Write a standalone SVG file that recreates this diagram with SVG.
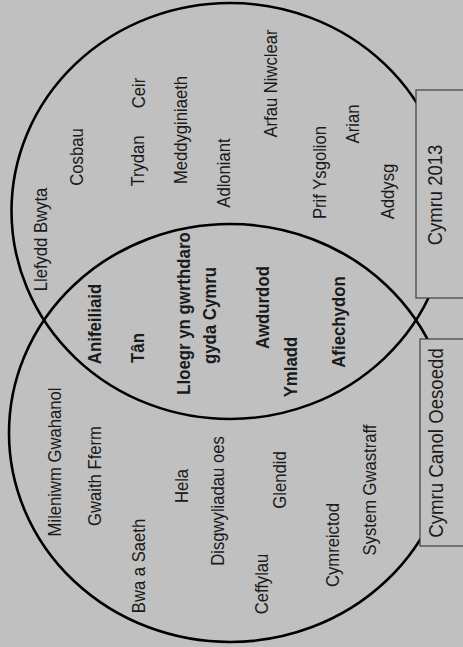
<svg xmlns="http://www.w3.org/2000/svg" width="463" height="647" viewBox="0 0 463 647">
<style>
.c{fill:none;stroke:#000;stroke-width:2.6}
.b{fill:#c0c0c0;stroke:#404040;stroke-width:1.2}
text{font-family:"Liberation Sans",Arial,sans-serif;font-size:18.5px;fill:#1a1a1a;text-anchor:middle}
.bd{font-weight:bold}
.lb{font-size:20.5px}
</style>
<rect width="463" height="647" fill="#c0c0c0"/>
<g id="set-cymru-2013"><ellipse class="c" cx="230" cy="211" rx="218.5" ry="208"/></g>
<g id="set-canol-oesoedd"><ellipse class="c" cx="230" cy="433" rx="221" ry="209"/></g>
<g id="label-cymru-2013">
<rect class="b" x="416" y="90" width="60" height="208"/>
<text class="lb" transform="translate(442,195) rotate(-90) scale(0.9,1)">Cymru 2013</text>
</g>
<g id="label-canol-oesoedd">
<rect class="b" x="420" y="339" width="60" height="207"/>
<text class="lb" transform="translate(443,443) rotate(-90) scale(0.91,1)">Cymru Canol Oesoedd</text>
</g>
<g id="items-2013">
<text transform="translate(47,239.5) rotate(-90) scale(0.9,1)">Llefydd Bwyta</text>
<text transform="translate(83,157) rotate(-90) scale(0.9,1)">Cosbau</text>
<text transform="translate(144,161) rotate(-90) scale(0.9,1)">Trydan</text>
<text transform="translate(145,93) rotate(-90) scale(0.9,1)">Ceir</text>
<text transform="translate(187,130) rotate(-90) scale(0.9,1)">Meddyginiaeth</text>
<text transform="translate(230,173) rotate(-90) scale(0.9,1)">Adloniant</text>
<text transform="translate(277,83.5) rotate(-90) scale(0.9,1)">Arfau Niwclear</text>
<text transform="translate(326,172.5) rotate(-90) scale(0.9,1)">Prif Ysgolion</text>
<text transform="translate(359,124) rotate(-90) scale(0.9,1)">Arian</text>
<text transform="translate(394,191.5) rotate(-90) scale(0.9,1)">Addysg</text>
</g>
<g id="items-both">
<text class="bd" transform="translate(101,324) rotate(-90) scale(0.91,1)">Anifeiliaid</text>
<text class="bd" transform="translate(144,348) rotate(-90) scale(0.91,1)">Tân</text>
<text class="bd" transform="translate(190,313.5) rotate(-90) scale(0.91,1)">Lloegr yn gwrthdaro</text>
<text class="bd" transform="translate(216,315.5) rotate(-90) scale(0.91,1)">gyda Cymru</text>
<text class="bd" transform="translate(269,307.5) rotate(-90) scale(0.91,1)">Awdurdod</text>
<text class="bd" transform="translate(297,367) rotate(-90) scale(0.91,1)">Ymladd</text>
<text class="bd" transform="translate(345,322) rotate(-90) scale(0.91,1)">Afiechydon</text>
</g>
<g id="items-canol">
<text transform="translate(61,462) rotate(-90) scale(0.9,1)">Mileniwm Gwahanol</text>
<text transform="translate(101,476) rotate(-90) scale(0.9,1)">Gwaith Fferm</text>
<text transform="translate(145,566) rotate(-90) scale(0.9,1)">Bwa a Saeth</text>
<text transform="translate(188,486) rotate(-90) scale(0.9,1)">Hela</text>
<text transform="translate(224,501) rotate(-90) scale(0.9,1)">Disgwyliadau oes</text>
<text transform="translate(268,584) rotate(-90) scale(0.9,1)">Ceffylau</text>
<text transform="translate(286,480) rotate(-90) scale(0.9,1)">Glendid</text>
<text transform="translate(339,545) rotate(-90) scale(0.9,1)">Cymreictod</text>
<text transform="translate(376,490) rotate(-90) scale(0.9,1)">System Gwastraff</text>
</g>
<g id="connectors"/>
</svg>
